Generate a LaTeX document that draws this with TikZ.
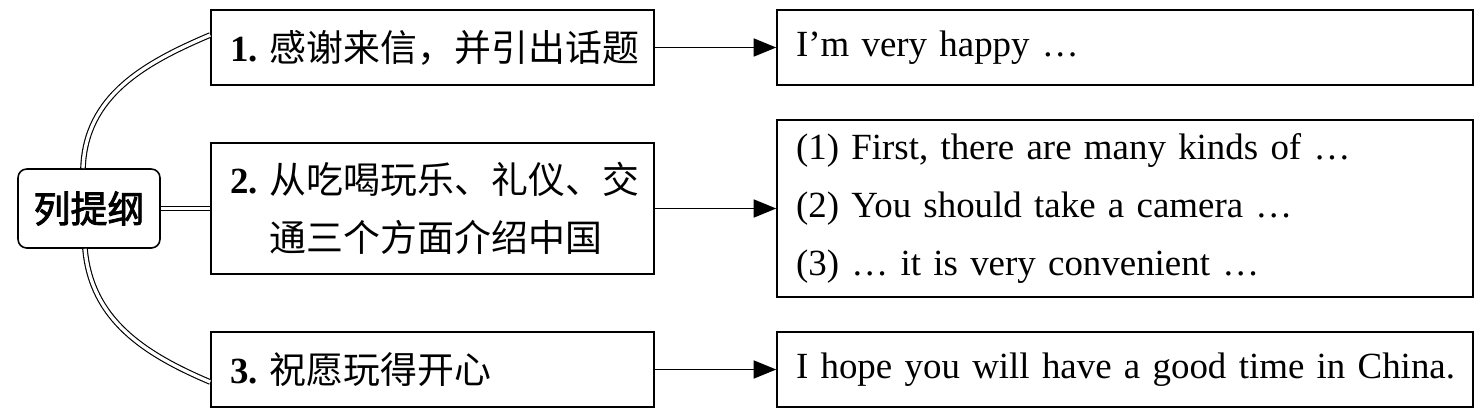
\documentclass[tikz,border=0pt]{standalone}
\usepackage{fontspec}
\setmainfont{Liberation Serif}
\newfontfamily\cjk[AutoFakeBold=2.5]{Noto Sans CJK SC}
\usetikzlibrary{arrows.meta,positioning}
\tikzset{box/.style={draw, thick, line width=0.9pt, rectangle, inner xsep=0.38cm,
minimum height=1.5cm, align=left, font=\fontsize{21}{33}\selectfont},
leftbox/.style={box, text width=8.1cm},
rightbox/.style={box, text width=13.16cm},
arrow/.style={draw, line width=0.9pt, -{Triangle[length=4.5mm, width=3.6mm]}},
branch/.style={draw, line width=0.65pt, double, double distance=1.9pt}}

\begin{document}
\begin{tikzpicture}
    \useasboundingbox (0,0) rectangle (29.62,8.36);
    % Root node
    \node[draw, line width=0.9pt, rounded corners=5pt, minimum width=2.84cm, minimum height=1.58cm,
        font=\fontsize{21}{25}\selectfont] (outline) at (1.78,4.19) {\cjk\bfseries 列提纲};

    % Outline points
    \node[leftbox] (point1) at (8.65,7.41) {\mbox{{\bfseries 1.}\ {\cjk 感谢来信，并引出话题}}};
    \node[leftbox, minimum height=2.62cm] (point2) at (8.65,4.19)
        {\mbox{{\bfseries 2.}\ {\cjk 从吃喝玩乐、礼仪、交}}\\
         \mbox{\phantom{{\bfseries 2.}\ }{\cjk 通三个方面介绍中国}}};
    \node[leftbox] (point3) at (8.65,0.97) {\mbox{{\bfseries 3.}\ {\cjk 祝愿玩得开心}}};

    % Expressions
    \node[rightbox] (expr1) at (22.5,7.41) {\mbox{I'm very happy \ldots}};
    \node[rightbox, minimum height=3.54cm] (expr2) at (22.5,4.19)
        {\mbox{(1) First, there are many kinds of \ldots}\\
         \mbox{(2) You should take a camera \ldots}\\
         \mbox{(3) \ldots\ it is very convenient \ldots}};
    \node[rightbox] (expr3) at (22.5,0.97) {\mbox{I hope you will have a good time in China.}};

    % Branches
    \draw[branch] ([xshift=-0.12cm]outline.north) to[out=88, in=203] ([yshift=0.25cm]point1.west);
    \draw[branch] (outline.east) -- (point2.west);
    \draw[branch] ([xshift=-0.08cm]outline.south) to[out=-85, in=157] ([yshift=-0.25cm]point3.west);

    % Arrows
    \draw[arrow] (point1) -- (expr1);
    \draw[arrow] (point2) -- (expr2);
    \draw[arrow] (point3) -- (expr3);
\end{tikzpicture}
\end{document}
